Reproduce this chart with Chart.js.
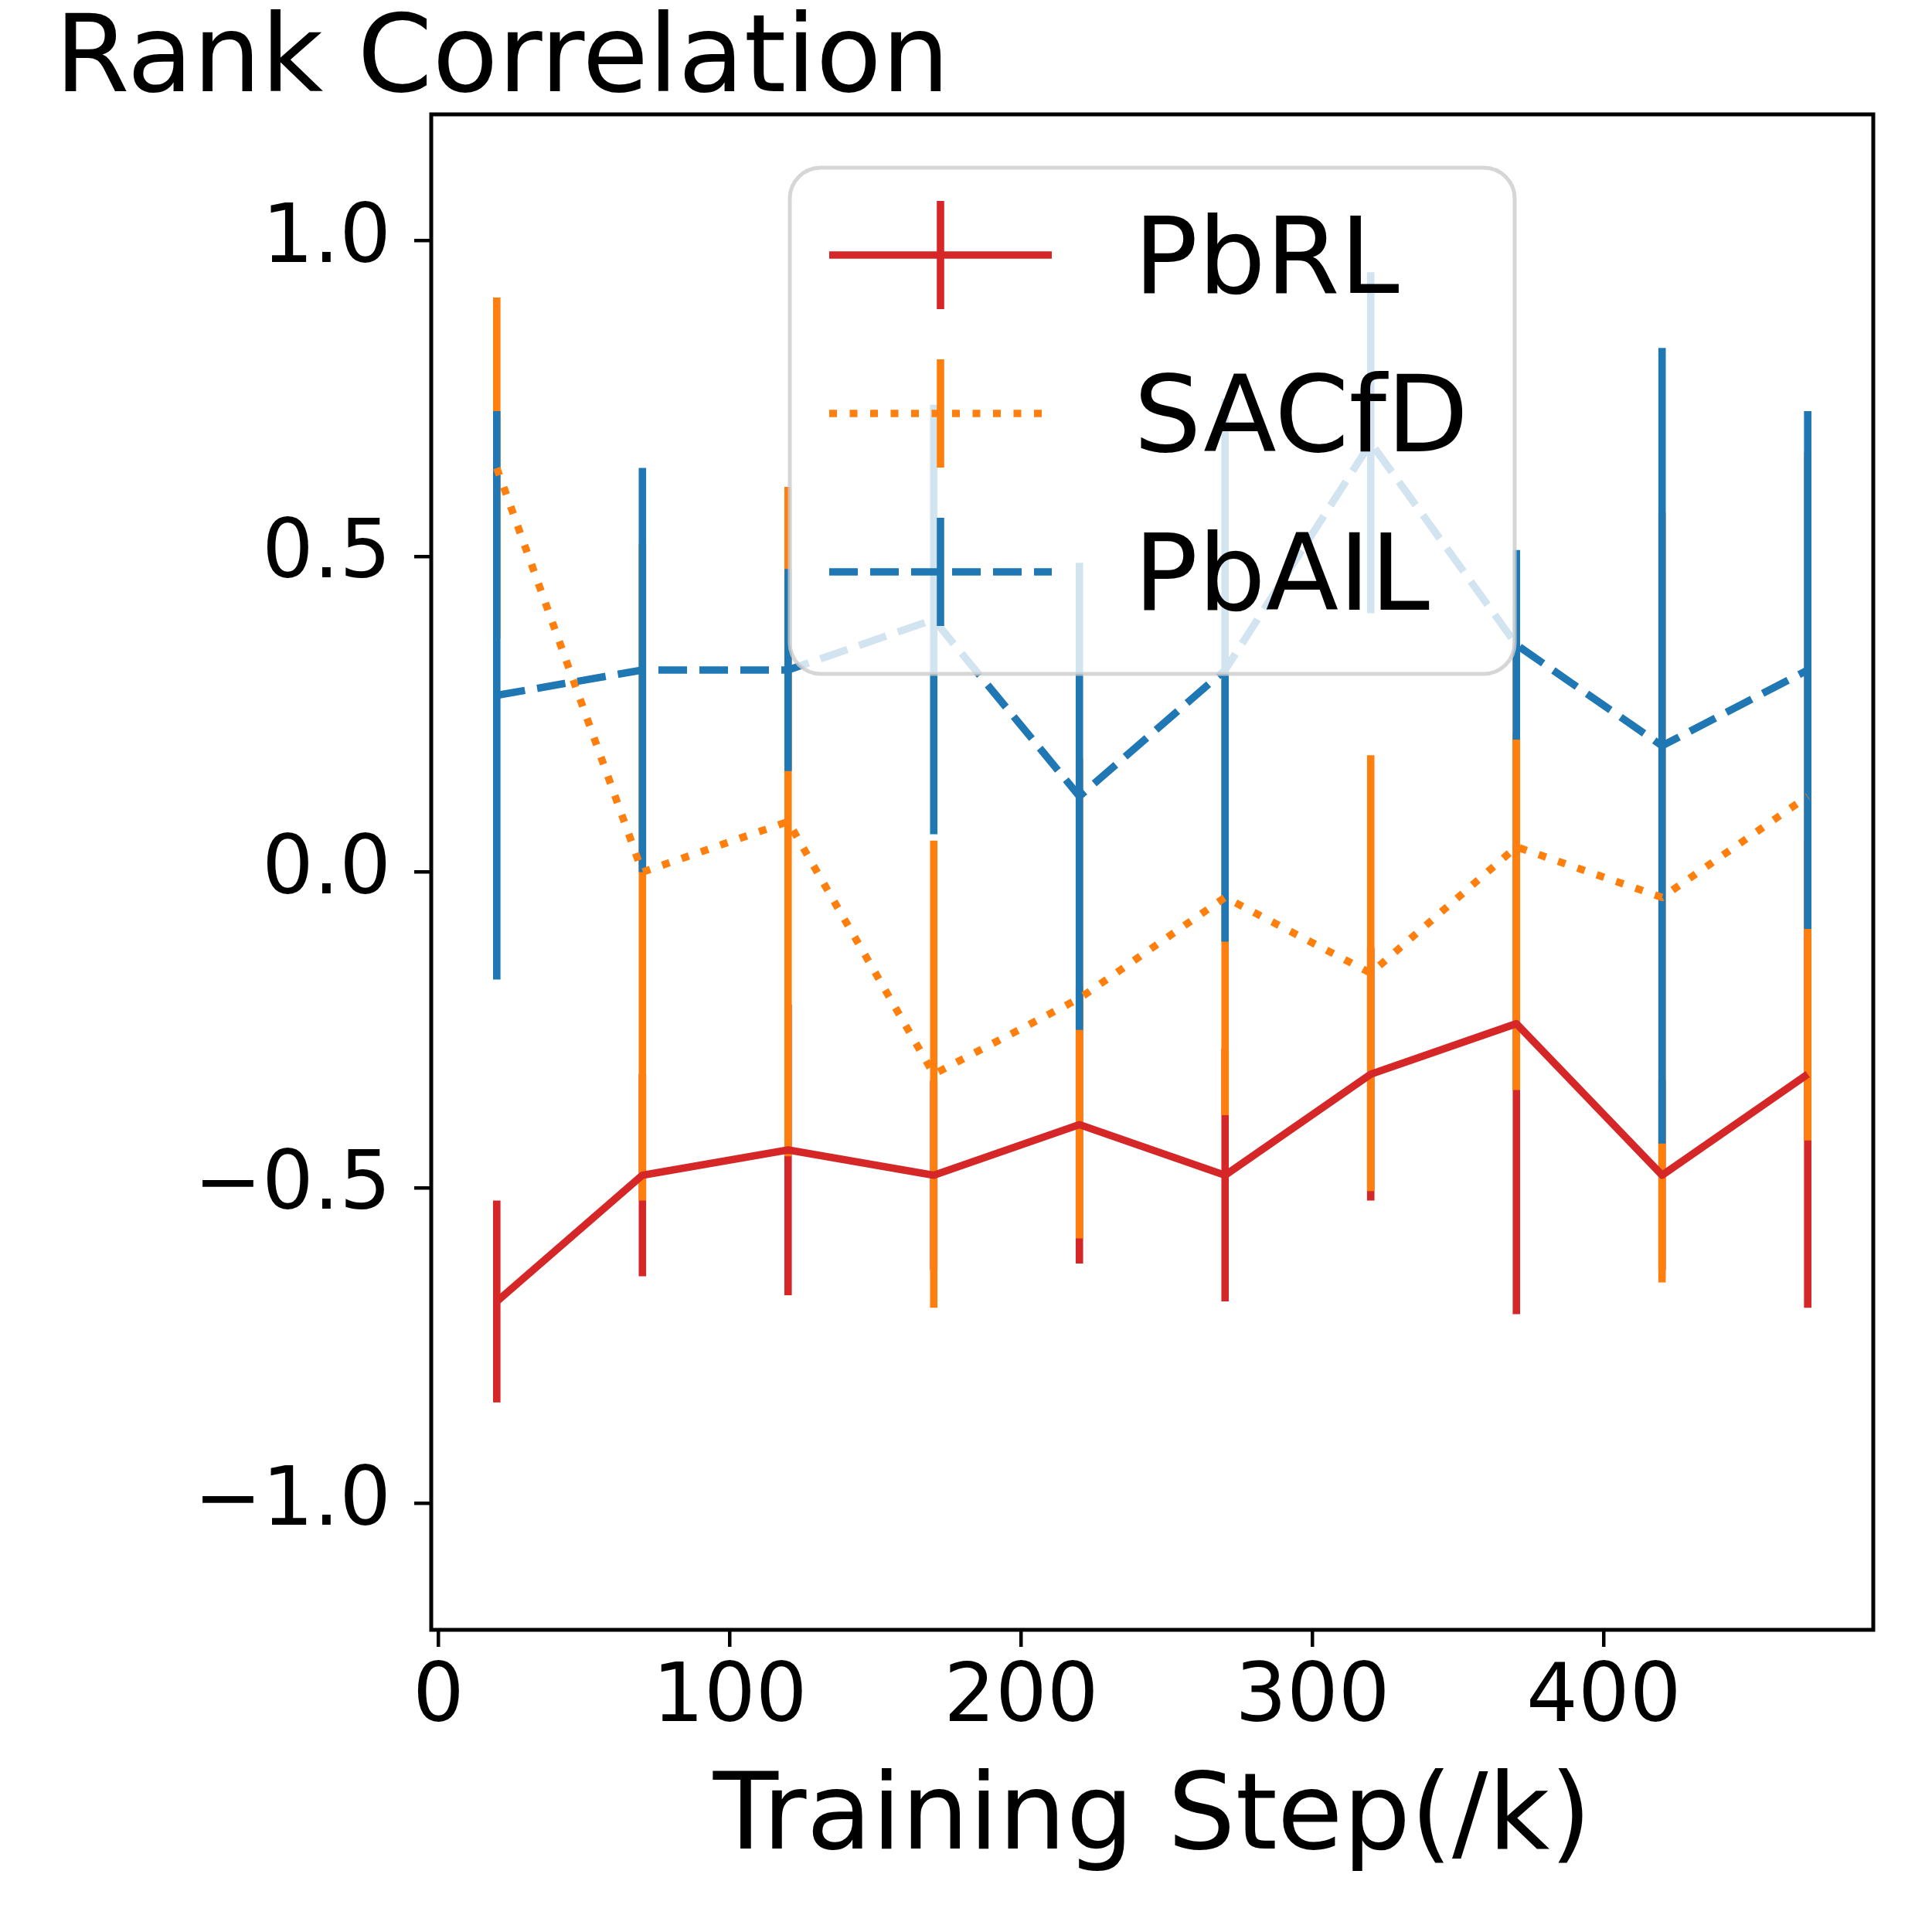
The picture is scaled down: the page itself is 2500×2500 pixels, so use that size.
<!DOCTYPE html>
<html>
<head>
<meta charset="utf-8">
<title>Rank Correlation</title>
<script src="https://cdn.jsdelivr.net/npm/chart.js@4.4.1/dist/chart.umd.min.js"></script>
<style>
 html, body { margin: 0; padding: 0; background: #fff; }
 #wrap { width: 2500px; height: 2500px; }
</style>
</head>
<body>
<div id="wrap"><canvas id="chart" width="2500" height="2500"></canvas></div>
<script>
// training steps (k)
const steps = [20, 70, 120, 170, 220, 270, 320, 370, 420, 470];

const pbrlMean = [-0.68, -0.48, -0.44, -0.48, -0.40, -0.48, -0.32, -0.24, -0.48, -0.32];
const pbrlErr = [0.16, 0.16, 0.23, 0.15, 0.22, 0.20, 0.20, 0.46, 0.15, 0.37];

const sacfdMean = [0.64, 0.00, 0.08, -0.32, -0.20, -0.04, -0.16, 0.04, -0.04, 0.12];
const sacfdErr = [0.27, 0.52, 0.53, 0.37, 0.38, 0.345, 0.345, 0.385, 0.61, 0.545];

const pbailMean = [0.28, 0.32, 0.32, 0.40, 0.12, 0.32, 0.68, 0.36, 0.20, 0.32];
const pbailErr = [0.45, 0.32, 0.16, 0.34, 0.37, 0.43, 0.27, 0.15, 0.63, 0.41];

const xTicks = [0, 100, 200, 300, 400];
const yTicks = [-1.0, -0.5, 0.0, 0.5, 1.0];

const FONT = 'DejaVu Sans';
const LW = 9.6;

const series = [
 { label: 'PbRL', mean: pbrlMean, err: pbrlErr, color: '#d62728', dash: [] },
 { label: 'SACfD', mean: sacfdMean, err: sacfdErr, color: '#ff7f0e', dash: [10, 16.5] },
 { label: 'PbAIL', mean: pbailMean, err: pbailErr, color: '#1f77b4', dash: [37, 16] },
];

// error bars go under every line, like matplotlib's collections
const errorBars = {
 id: 'errorBars',
 beforeDatasetsDraw(chart) {
 const { ctx, chartArea, scales: { x, y } } = chart;
 ctx.save();
 ctx.beginPath();
 ctx.rect(chartArea.left, chartArea.top, chartArea.width, chartArea.height);
 ctx.clip();
 ctx.lineWidth = LW;
 ctx.lineCap = 'butt';
 series.forEach(s => {
 ctx.strokeStyle = s.color;
 steps.forEach((st, i) => {
 const px = x.getPixelForValue(st);
 ctx.beginPath();
 ctx.moveTo(px, y.getPixelForValue(s.mean[i] - s.err[i]));
 ctx.lineTo(px, y.getPixelForValue(s.mean[i] + s.err[i]));
 ctx.stroke();
 });
 });
 ctx.restore();
 }
};

function roundRect(ctx, x, y, w, h, r) {
 ctx.beginPath();
 ctx.moveTo(x + r, y);
 ctx.lineTo(x + w - r, y);
 ctx.arcTo(x + w, y, x + w, y + r, r);
 ctx.lineTo(x + w, y + h - r);
 ctx.arcTo(x + w, y + h, x + w - r, y + h, r);
 ctx.lineTo(x + r, y + h);
 ctx.arcTo(x, y + h, x, y + h - r, r);
 ctx.lineTo(x, y + r);
 ctx.arcTo(x, y, x + r, y, r);
 ctx.closePath();
}

// legend box sits on top of the data, semi transparent
const boxLegend = {
 id: 'boxLegend',
 afterDatasetsDraw(chart) {
 const ctx = chart.ctx;
 ctx.save();
 roundRect(ctx, 1022, 217, 938, 655, 40);
 ctx.fillStyle = 'rgba(255,255,255,0.8)';
 ctx.fill();
 ctx.lineWidth = 5;
 ctx.strokeStyle = 'rgba(204,204,204,0.8)';
 ctx.stroke();

 ctx.font = `138px "${FONT}"`;
 ctx.textAlign = 'left';
 ctx.textBaseline = 'alphabetic';
 series.forEach((s, i) => {
 const cy = 330 + i * 205;
 ctx.strokeStyle = s.color;
 ctx.lineWidth = LW;
 ctx.lineCap = 'butt';
 ctx.setLineDash(s.dash);
 ctx.beginPath();
 ctx.moveTo(1073, cy);
 ctx.lineTo(1361, cy);
 ctx.stroke();
 ctx.setLineDash([]);
 ctx.beginPath();
 ctx.moveTo(1217, cy - 70);
 ctx.lineTo(1217, cy + 70);
 ctx.stroke();
 ctx.fillStyle = '#000';
 ctx.fillText(s.label, 1467, cy + 49);
 });
 ctx.restore();
 }
};

const frameAndText = {
 id: 'frameAndText',
 afterDraw(chart) {
 const { ctx, chartArea: a } = chart;
 ctx.save();
 ctx.strokeStyle = '#000';
 ctx.lineWidth = 5;
 ctx.strokeRect(a.left, a.top, a.right - a.left, a.bottom - a.top);
 ctx.fillStyle = '#000';
 ctx.textBaseline = 'alphabetic';
 ctx.font = `139px "${FONT}"`;
 ctx.textAlign = 'left';
 ctx.fillText('Rank Correlation', 71, 118);
 ctx.font = `138px "${FONT}"`;
 ctx.textAlign = 'center';
 ctx.fillText('Training Step(/k)', (a.left + a.right) / 2, 2392);
 ctx.restore();
 }
};

const tickFont = { family: FONT, size: 105 };

new Chart(document.getElementById('chart'), {
 type: 'line',
 data: {
 datasets: series.map((s, k) => ({
 label: s.label,
 data: steps.map((st, i) => ({ x: st, y: s.mean[i] })),
 borderColor: s.color,
 borderWidth: LW,
 borderDash: s.dash,
 borderCapStyle: 'butt',
 borderJoinStyle: 'round',
 pointRadius: 0,
 fill: false,
 tension: 0,
 order: series.length - k,
 })),
 },
 options: {
 responsive: false,
 animation: false,
 devicePixelRatio: 1,
 layout: { padding: { left: 0, top: 148, right: 76, bottom: 0 } },
 plugins: {
 legend: { display: false },
 tooltip: { enabled: false },
 },
 scales: {
 x: {
 type: 'linear',
 min: -2.5,
 max: 492.5,
 afterFit: s => { s.height = 391; },
 afterBuildTicks: s => { s.ticks = xTicks.map(v => ({ value: v })); },
 grid: { drawOnChartArea: false, drawTicks: true, tickLength: 22, color: '#000', lineWidth: 4.5 },
 border: { display: false },
 ticks: { font: tickFont, color: '#000', padding: 6, maxRotation: 0, autoSkip: false, callback: v => String(v) },
 },
 y: {
 type: 'linear',
 min: -1.2,
 max: 1.2,
 afterFit: s => { s.width = 558; },
 afterBuildTicks: s => { s.ticks = yTicks.map(v => ({ value: v })); },
 grid: { drawOnChartArea: false, drawTicks: true, tickLength: 22, color: '#000', lineWidth: 4.5 },
 border: { display: false },
 ticks: {
 font: tickFont, color: '#000', padding: 30, autoSkip: false,
 callback: v => v.toFixed(1).replace('-', '\u2212'),
 },
 },
 },
 },
 plugins: [errorBars, boxLegend, frameAndText],
});
</script>
</body>
</html>
